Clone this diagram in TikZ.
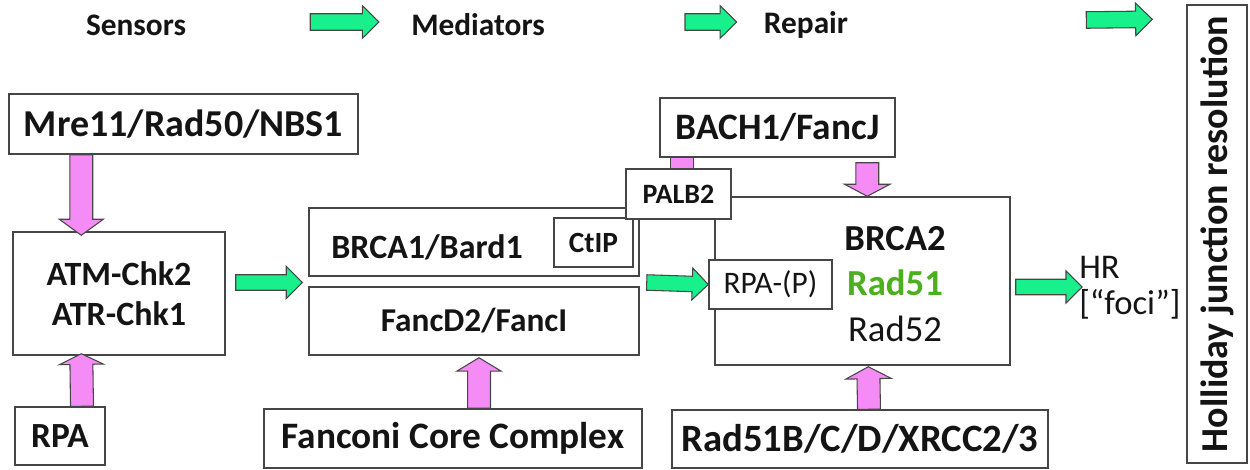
\documentclass[tikz,border=0pt]{standalone}
\usepackage{fontspec}
\setmainfont{Carlito}
\usetikzlibrary{calc}
\definecolor{arrgreen}{RGB}{24,240,140}
\definecolor{arrpink}{RGB}{245,140,245}
\definecolor{radgreen}{RGB}{76,176,30}
\definecolor{ink}{RGB}{20,20,20}
\definecolor{edge}{RGB}{70,70,70}
% #1 style, #2 start, #3 tip, #4 shaft half width, #5 head half width, #6 head length
\newcommand\blockarrow[6]{%
  \path[#1] ($#2!#4!90:#3$) -- ($#3!#6!#2!#4!-90:#2$) -- ($#3!#6!#2!#5!-90:#2$) -- #3
    -- ($#3!#6!#2!#5!90:#2$) -- ($#3!#6!#2!#4!90:#2$) -- ($#2!#4!-90:#3$) -- cycle;}
\begin{document}
\begin{tikzpicture}[x=0.75pt,y=-0.75pt,
  box/.style={draw=edge, line width=1.1pt, fill=white, inner sep=0pt, text=ink},
  sz/.style 2 args={minimum width=#1*0.75pt, minimum height=#2*0.75pt},
  bf/.style={font=\bfseries\fontsize{#1}{#1}\selectfont, text=ink},
  rg/.style={font=\fontsize{#1}{#1}\selectfont, text=ink},
  lbl/.style={inner sep=0pt},
  garrow/.style={fill=arrgreen, draw=edge, line width=0.8pt, line join=miter},
  parrow/.style={fill=arrpink, draw=edge, line width=0.8pt, line join=miter}]
\useasboundingbox (0,0) rectangle (1250,470);

% headers
\node[lbl, bf=23.5pt] (sens) at (136,25) {Sensors};
\node[lbl, bf=23.5pt] (med) at (478,25) {Mediators};
\node[lbl, bf=23.5pt] (rep) at (806,25) {Repair};
\node[box, sz={60}{458}, bf=28.5pt] (holl) at (1217,234) {\rotatebox{90}{Holliday junction resolution}};

% sensors
\node[box, sz={349}{60}, bf=28.5pt] (mre) at (183.5,124) {Mre11/Rad50/NBS1};
\node[box, sz={212}{123}, align=center, font=\bfseries\fontsize{25.5pt}{30pt}\selectfont] (atm) at (119,293.5) {ATM-Chk2\\ATR-Chk1};
\node[box, sz={90}{58}, bf=26.5pt] (rpa) at (60,436) {RPA};

% mediators
\node[box, sz={330}{68}] (brca1) at (474,242) {};
\node[lbl, bf=25.5pt] (brca1t) at (427,247) {BRCA1/Bard1};
\node[box, sz={79}{49}, bf=22pt] (ctip) at (593.5,242.5) {CtIP};
\node[box, sz={330}{68}, bf=25pt] (fancd2) at (474,321) {\raisebox{-4pt}{FancD2/FancI}};
\node[box, sz={378}{59}, bf=28pt] (fanc) at (453,438.5) {Fanconi Core Complex};

% repair
\node[box, sz={295}{168}] (brca2) at (862.5,281) {};
\node[lbl, align=center, font=\fontsize{27.5pt}{34pt}\selectfont, text=ink] (brca2t) at (895,284)
  {\textbf{BRCA2}\\\textbf{\color{radgreen}Rad51}\\Rad52};
\node[box, sz={123}{49}, rg=23.5pt] (rpap) at (770.5,284.5) {RPA-(P)};
\node[box, sz={235}{59}, bf=28pt] (bach) at (777.5,127.5) {BACH1/FancJ};
\node[box, sz={105}{50}, bf=21pt] (palb) at (678.5,194) {PALB2};
\node[box, sz={376}{58}, bf=29pt] (rad51b) at (860,439) {Rad51B/C/D/XRCC2/3};
\node[lbl, anchor=west, align=left, font=\fontsize{26pt}{27pt}\selectfont, text=ink] (hr) at (1079,288) {HR\\{}[``foci'']};

% green arrows
\coordinate (g1s) at ($(sens.east)+(124,-3)$);
\coordinate (g1e) at ($(med.west)+(-32,-3)$);
\coordinate (g2s) at ($(med.east)+(140,-3)$);
\coordinate (g2e) at ($(rep.west)+(-27,-3)$);
\coordinate (g3s) at ($(rep.east)+(238,-5)$);
\coordinate (g3e) at ($(holl.north west)+(-34,15)$);
\coordinate (mgapl) at ($(brca1.south west)!0.5!(fancd2.north west)$);
\coordinate (mgapr) at ($(brca1.south east)!0.5!(fancd2.north east)$);
\coordinate (g4s) at ($(atm.east |- mgapl)+(10,1)$);
\coordinate (g4e) at ($(mgapl)+(-6,1)$);
\coordinate (g5s) at ($(mgapr)+(7,1)$);
\coordinate (g6s) at ($(brca2.east)+(5,6)$);
\coordinate (g6e) at ($(hr.west |- g6s)+(3,0)$);
\blockarrow{garrow}{(g1s)}{(g1e)}{6.2pt}{12.3pt}{12.5pt}
\blockarrow{garrow}{(g2s)}{(g2e)}{6.2pt}{12.3pt}{12.5pt}
\blockarrow{garrow}{(g3s)}{(g3e)}{6.2pt}{12.3pt}{12.5pt}
\blockarrow{garrow}{(g4s)}{(g4e)}{5.8pt}{12pt}{12pt}
\blockarrow{garrow}{(g5s)}{(rpap.west)}{5.8pt}{12pt}{12pt}
\blockarrow{garrow}{(g6s)}{(g6e)}{5.8pt}{12pt}{12pt}

% pink arrows
\coordinate (p1s) at ($(mre.south west)+(73,0)$);
\coordinate (p1e) at ($(atm.north west)+(69,4)$);
\coordinate (p2s) at ($(rpa.north)+(22,0)$);
\coordinate (p2e) at ($(atm.south west)+(69,-2)$);
\coordinate (p3s) at ($(fanc.north)+(26,0)$);
\coordinate (p3e) at ($(fancd2.south -| p3s)+(0,2)$);
\coordinate (p4s) at ($(bach.south west)+(208,5)$);
\coordinate (p4e) at ($(brca2.north west)+(153,0)$);
\coordinate (p5s) at ($(rad51b.north)+(9,0)$);
\coordinate (p5e) at ($(brca2.south west)+(154,1)$);
\blockarrow{parrow}{(p1s)}{(p1e)}{8.6pt}{16.5pt}{12pt}
\blockarrow{parrow}{(p2s)}{(p2e)}{8.6pt}{16.5pt}{8pt}
\blockarrow{parrow}{(p3s)}{(p3e)}{8.6pt}{16.5pt}{10pt}
\blockarrow{parrow}{(p4s)}{(p4e)}{8.6pt}{17pt}{9pt}
\blockarrow{parrow}{(p5s)}{(p5e)}{8.6pt}{17pt}{9pt}
\draw[parrow] ($(bach.south west)+(11,0)$) rectangle ($(palb.north west)+(68,0)$);
\end{tikzpicture}
\end{document}
